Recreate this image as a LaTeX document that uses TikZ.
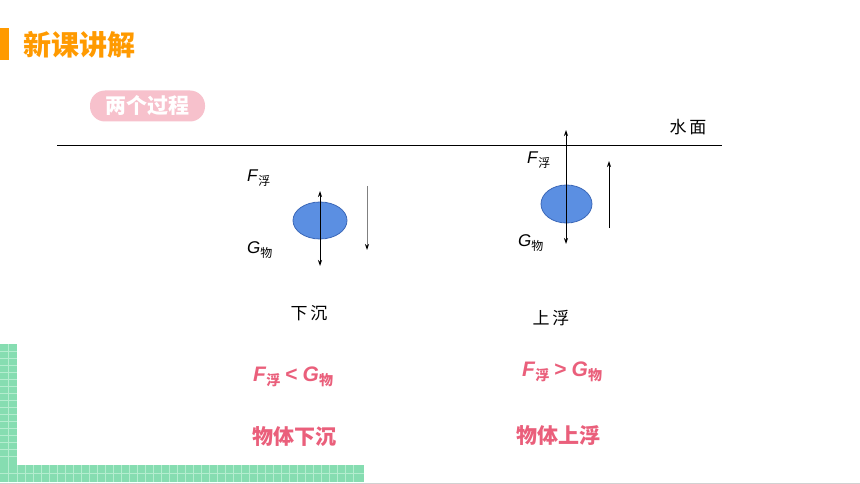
\documentclass[tikz,border=0pt]{standalone}
\usepackage{fontspec}
\setmainfont{Liberation Sans}
\newfontfamily\cjk{Noto Sans CJK SC}
\usetikzlibrary{arrows.meta,shapes.geometric}
\definecolor{orangeT}{HTML}{FF9A00}
\definecolor{pillpink}{HTML}{F7C1CC}
\definecolor{pinkT}{HTML}{EA5F7B}
\definecolor{gridgreen}{HTML}{86DDB1}
\definecolor{gridline}{HTML}{B4EDCF}
\definecolor{ellfill}{HTML}{5B8FE2}
\definecolor{ellstroke}{HTML}{3C68B8}
\tikzset{
  force/.style={line width=0.8pt, {Stealth[length=6pt,width=4pt]}-{Stealth[length=6pt,width=4pt]}},
  motion/.style={line width=0.8pt, -{Stealth[length=6pt,width=4pt,black]}},
  body/.style={ellipse, draw=ellstroke, fill=ellfill, line width=0.8pt, inner sep=0pt},
  plain/.style={font=\cjk\fontsize{17}{17}\selectfont},
  flabel/.style={font=\fontsize{17}{17}\selectfont, inner sep=0pt},
  result/.style={text=pinkT, font=\bfseries\fontsize{21}{21}\selectfont, inner sep=0pt},
}
\newcommand{\subcj}[1]{\raisebox{-3.5pt}{\cjk\fontsize{12}{12}\selectfont #1}}
\newcommand{\subcjb}[1]{\raisebox{-4pt}{\cjk\bfseries\fontsize{14}{14}\selectfont #1}}
\begin{document}
\begin{tikzpicture}[x=1pt,y=-1pt]
\useasboundingbox (0,0) rectangle (860,484);
\fill[white] (0,0) rectangle (860,484);
% bottom grey rule
\draw[color=black!18, line width=1pt] (0,483.5) -- (860,483.5);
% green grid corner
\fill[gridgreen] (0,344) rectangle (17,482);
\fill[gridgreen] (0,465) rectangle (364,482);
\foreach \yy in {351,358,...,462} \draw[gridline, line width=0.6pt] (0,\yy) -- (17,\yy);
\foreach \yy in {473} \draw[gridline, line width=0.6pt] (0,\yy) -- (364,\yy);
\draw[gridline, line width=0.6pt] (8.5,344) -- (8.5,482);
\foreach \xx in {17,25,...,360} \draw[gridline, line width=0.6pt] (\xx,465) -- (\xx,482);
% title
\fill[orangeT] (0,28) rectangle (9,60);
\node[anchor=west, text=orangeT, font=\cjk\bfseries\fontsize{28}{28}\selectfont, inner sep=0pt] (title) at (23,45) {新课讲解};
% pill
\node[fill=pillpink, rounded corners=15pt, minimum width=115pt, minimum height=31pt, text=white, font=\cjk\bfseries\fontsize{21}{21}\selectfont, inner sep=0pt] (pill) at (147.5,106) {两个过程};
% water surface
\coordinate (wL) at (57,145);
\coordinate (wR) at (722,145);
\draw[line width=0.8pt] (wL) -- (wR);
\node[plain] (water) at (688,127) {水\hspace{3pt}面};
% left body (sinking)
\node[body, minimum width=54pt, minimum height=37pt] (objL) at (320,220.5) {};
\coordinate (LT) at (320,191);
\coordinate (LB) at (320,266);
\draw[force] (LB) -- (LT);
\coordinate (LmT) at (367,186);
\coordinate (LmB) at (367,250);
\draw[motion, draw=black!50] (LmT) -- (LmB);
\node[flabel, anchor=west] (LF) at (247,178) {\textit{F}\subcj{浮}};
\node[flabel, anchor=west] (LG) at (247,250) {\textit{G}\subcj{物}};
\node[plain] (sink) at (309,313) {下\hspace{3pt}沉};
% right body (floating up)
\node[body, minimum width=51pt, minimum height=38pt] (objR) at (566.5,204) {};
\coordinate (RT) at (566,130);
\coordinate (RB) at (566,244);
\draw[force] (RB) -- (RT);
\coordinate (RmB) at (609,228);
\coordinate (RmT) at (609,161);
\draw[motion] (RmB) -- (RmT);
\node[flabel, anchor=west] (RF) at (527,160) {\textit{F}\subcj{浮}};
\node[flabel, anchor=west] (RG) at (518,243) {\textit{G}\subcj{物}};
\node[plain] (rise) at (551,318) {上\hspace{3pt}浮};
% conclusions
\node[result, anchor=west] (cL) at (253,377) {\textit{F}\subcjb{浮}\hspace{5pt}<\hspace{5pt}\textit{G}\subcjb{物}};
\node[result, anchor=west, font=\cjk\bfseries\fontsize{21}{21}\selectfont] (dL) at (252,437) {物体下沉};
\node[result, anchor=west] (cR) at (522,372) {\textit{F}\subcjb{浮}\hspace{5pt}>\hspace{5pt}\textit{G}\subcjb{物}};
\node[result, anchor=west, font=\cjk\bfseries\fontsize{21}{21}\selectfont] (dR) at (516,436) {物体上浮};
\end{tikzpicture}
\end{document}
